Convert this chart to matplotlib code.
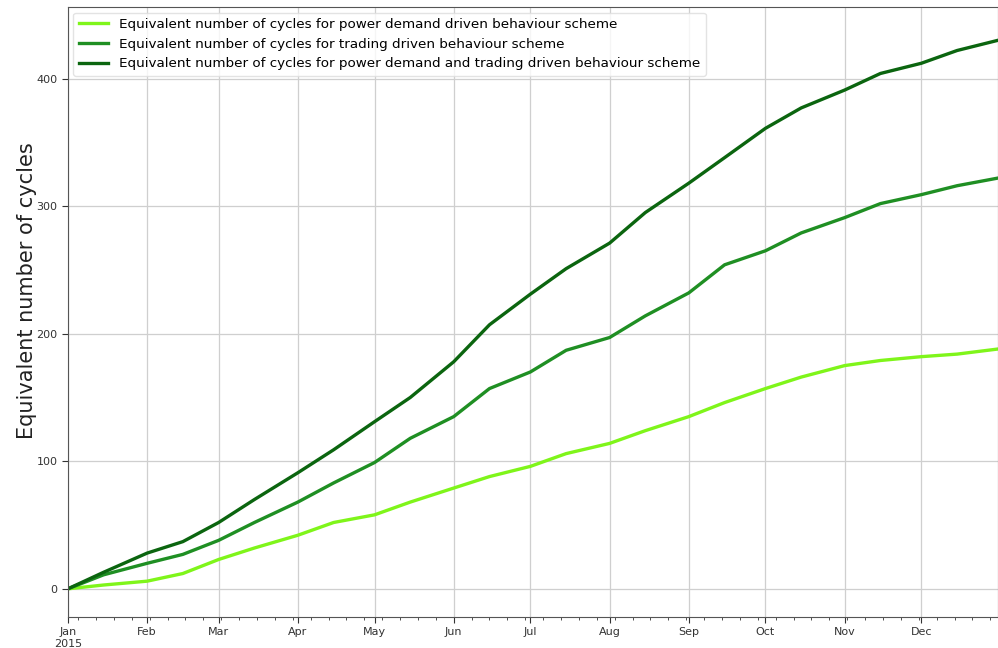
import numpy as np
import pandas as pd
import matplotlib
matplotlib.use("Agg")
import matplotlib.pyplot as plt
import matplotlib.dates as mdates

# -----------------------------
# Data (half-month steps)
# -----------------------------

dates = pd.to_datetime([
    "2015-01-01", "2015-01-15", "2015-02-01", "2015-02-15",
    "2015-03-01", "2015-03-15", "2015-04-01", "2015-04-15",
    "2015-05-01", "2015-05-15", "2015-06-01", "2015-06-15",
    "2015-07-01", "2015-07-15", "2015-08-01", "2015-08-15",
    "2015-09-01", "2015-09-15", "2015-10-01", "2015-10-15",
    "2015-11-01", "2015-11-15", "2015-12-01", "2015-12-15",
    "2015-12-31",
])

power_demand = [0, 3, 6, 12, 23, 32, 42, 52, 58, 68, 79, 88,
                96, 106, 114, 124, 135, 146, 157, 166, 175, 179,
                182, 184, 188]

trading = [0, 11, 20, 27, 38, 52, 68, 83, 99, 118, 135, 157,
           170, 187, 197, 214, 232, 254, 265, 279, 291, 302,
           309, 316, 322]

combined = [0, 13, 28, 37, 52, 70, 91, 109, 131, 150, 178, 207,
            231, 251, 271, 295, 318, 338, 361, 377, 391, 404,
            412, 422, 430]

labels = [
    "Equivalent number of cycles for power demand driven behaviour scheme",
    "Equivalent number of cycles for trading driven behaviour scheme",
    "Equivalent number of cycles for power demand and trading driven behaviour scheme",
]
colors = ["#7ff51a", "#1f8f23", "#0b650f"]

# -----------------------------
# Plot
# -----------------------------

fig = plt.figure(figsize=(9.98, 6.48), dpi=100)
ax = fig.add_axes([0.068, 0.048, 0.932, 0.941])

for series, label, color in zip([power_demand, trading, combined], labels, colors):
    ax.plot(dates, series, color=color, linewidth=2.4, label=label)

ax.set_xlim(pd.Timestamp("2015-01-01"), pd.Timestamp("2015-12-31"))
ax.set_ylim(-22, 456)
ax.set_yticks([0, 100, 200, 300, 400])

ax.xaxis.set_major_locator(mdates.MonthLocator())
ax.xaxis.set_minor_locator(mdates.WeekdayLocator(byweekday=mdates.MO))
month_names = ["Jan\n2015", "Feb", "Mar", "Apr", "May", "Jun",
               "Jul", "Aug", "Sep", "Oct", "Nov", "Dec"]
ax.xaxis.set_major_formatter(
    plt.FuncFormatter(lambda x, pos: month_names[mdates.num2date(x).month - 1]))

ax.tick_params(axis="both", which="major", labelsize=8, colors="#333333", length=4)
ax.tick_params(axis="x", which="minor", length=2, colors="#333333")
for spine in ax.spines.values():
    spine.set_color("#555555")

ax.grid(True, which="major", color="#cfcfcf", linewidth=0.9)

ax.set_ylabel("Equivalent number of cycles", fontsize=15, color="#222222")
ax.yaxis.set_label_coords(-0.033, 0.535)

ax.legend(loc="upper left", fontsize=9.7, framealpha=0.8, edgecolor="#dddddd",
          handlelength=2.2, borderaxespad=0.4)

plt.savefig("out.png", dpi=100)
